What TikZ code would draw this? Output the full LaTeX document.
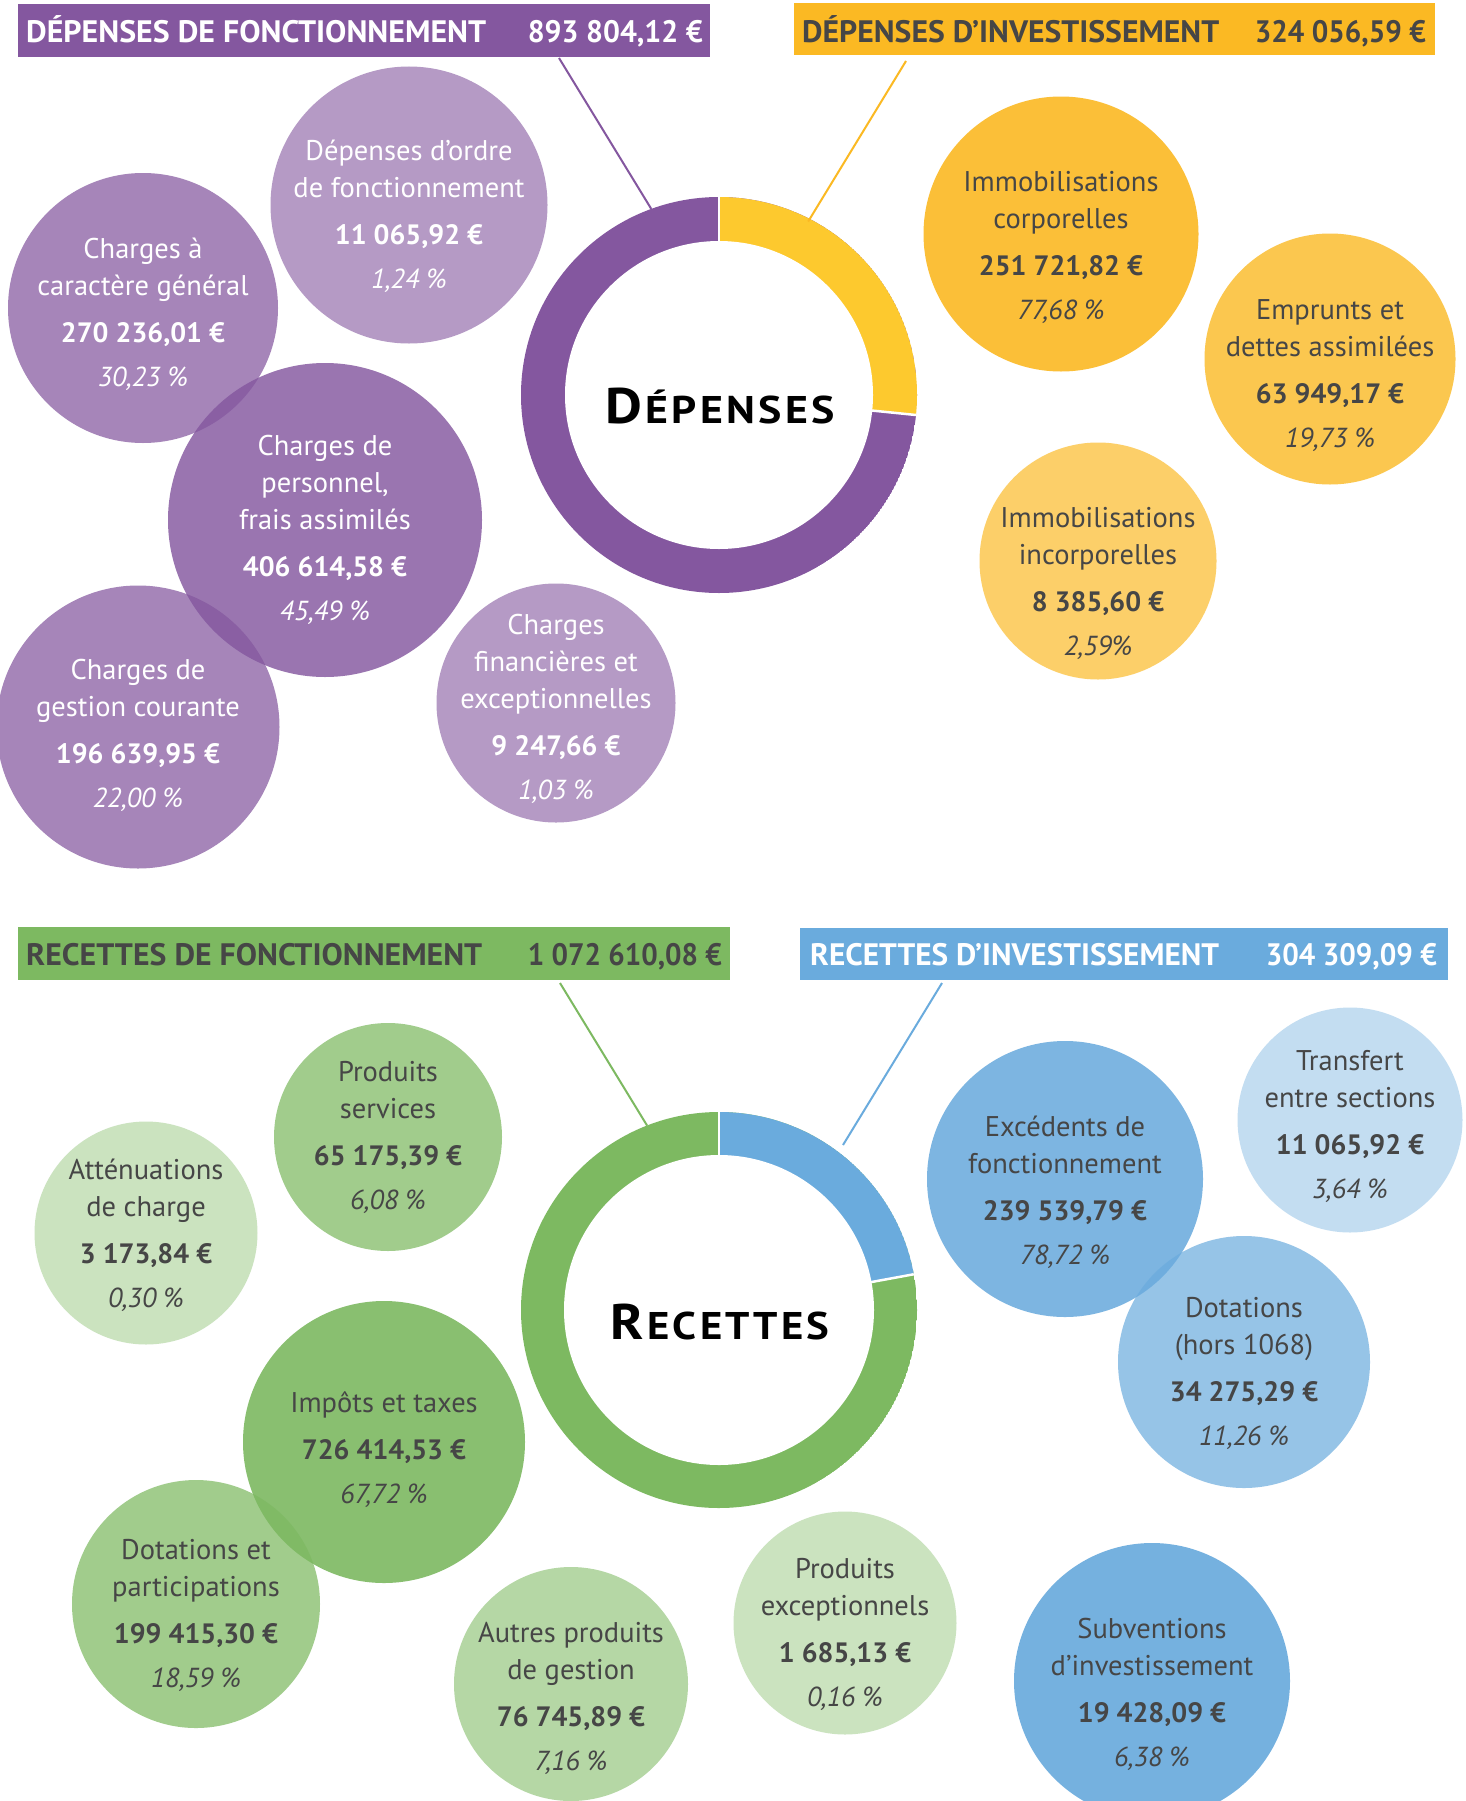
\documentclass[tikz,border=0pt]{standalone}
\usepackage{fontspec}
\setmainfont{PT Sans}
\usepackage{graphicx}
\usetikzlibrary{calc}
\definecolor{cP}{RGB}{132,87,159}
\definecolor{cY}{RGB}{251,185,35}
\definecolor{cYd}{RGB}{253,201,46}
\definecolor{cG}{RGB}{125,185,97}
\definecolor{cB}{RGB}{106,171,221}
\definecolor{tx}{RGB}{70,70,70}
\newlength\fitlen
\newcommand\fitw[2]{\settowidth\fitlen{#2}\pgfmathsetmacro\fitr{#1/\fitlen}\scalebox{\fitr}[1]{#2}}
\newcommand\amt[1]{{\bfseries\fontsize{28}{37}\selectfont #1}}
\newcommand\pct[1]{{\itshape\fontsize{27.5}{37}\selectfont #1}}
\tikzset{
  hbar/.style={rectangle, inner sep=0pt, anchor=north west},
  htxt/.style={inner sep=0pt, font=\bfseries\fontsize{31}{31}\selectfont},
  bub/.style={circle, inner sep=0pt},
  bP/.style={bub, fill=cP, fill opacity=#1},
  bY/.style={bub, fill=cY, fill opacity=#1},
  bG/.style={bub, fill=cG, fill opacity=#1},
  bB/.style={bub, fill=cB, fill opacity=#1},
  btx/.style={inner sep=0pt, align=center, font=\fontsize{28.5}{37}\selectfont},
  tW/.style={btx, text=white},
  tD/.style={btx, text=tx},
  conn/.style={line width=2pt},
  sep/.style={white, line width=2.5pt},
  ttl/.style={inner sep=0pt, anchor=base, text=black}
}
\begin{document}
\begin{tikzpicture}[x=1pt,y=-1pt]
\fill[white] (0,0) rectangle (1465,1801);
\useasboundingbox (0,0) rectangle (1465,1801);

% ---------------- DEPENSES ----------------
\node[hbar, fill=cP, minimum width=692pt, minimum height=53pt] (hP) at (18,4) {};
\node[htxt, text=white, anchor=base west] (hPl) at (26,43) {\fitw{460pt}{DÉPENSES DE FONCTIONNEMENT}};
\node[htxt, text=white, anchor=base east] (hPa) at (703,43) {\fitw{175pt}{893 804,12 €}};
\node[hbar, fill=cY, minimum width=641pt, minimum height=52pt] (hY) at (794,3) {};
\node[htxt, text=tx, anchor=base west] (hYl) at (802,43) {\fitw{417pt}{DÉPENSES D’INVESTISSEMENT}};
\node[htxt, text=tx, anchor=base east] (hYa) at (1426,43) {\fitw{171pt}{324 056,59 €}};

\coordinate (dD) at (719,395);
\begin{scope}
  \clip (dD) circle[radius=198];
  \fill[cP] (dD) circle[radius=198];
  \fill[cYd] (dD) -- ++(0,-300) -- ++(300,0) -- ++(0,330.5) -- cycle;
  \fill[white] (dD) circle[radius=154];
  \draw[sep] ($(dD)+(-90:150)$) -- ($(dD)+(-90:205)$);
  \draw[sep] ($(dD)+(5.8:150)$) -- ($(dD)+(5.8:205)$);
\end{scope}
\node[ttl] (tDp) at (720,423) {\fitw{230pt}{\bfseries\fontsize{50}{50}\selectfont D\fontsize{38.6}{40}\selectfont\kern3pt É\kern3pt P\kern3pt E\kern3pt N\kern3pt S\kern3pt E\kern3pt S}};

\coordinate (lP0) at (559,58);
\coordinate (lP1) at ($(dD)+(-110:198)$);
\coordinate (lY0) at (906,61);
\coordinate (lY1) at ($(dD)+(-62.8:195)$);
\draw[conn, cP] (lP0) -- (lP1);
\draw[conn, cY] (lY0) -- (lY1);

\node[bP=0.6, minimum size=277pt] (c1) at (409,205) {};
\node[bP=0.72, minimum size=270pt] (c2) at (143,308) {};
\node[bP=0.82, minimum size=314pt] (c3) at (325,520) {};
\node[bP=0.72, minimum size=283pt] (c4) at (138,727) {};
\node[bP=0.6, minimum size=239pt] (c5) at (556,703) {};
\node[bY=0.9, minimum size=275pt] (c6) at (1061,234) {};
\node[bY=0.8, minimum size=251pt] (c7) at (1330,359) {};
\node[bY=0.68, minimum size=237pt] (c8) at (1098,561) {};

\node[tW] (t1) at ($(c1)+(0,11)$) {Dépenses d’ordre\\de fonctionnement\\[10pt]\amt{11 065,92 €}\\[7pt]\pct{1,24 \%}};
\node[tW] (t2) at ($(c2)+(0,6)$) {Charges à\\caractère général\\[10pt]\amt{270 236,01 €}\\[7pt]\pct{30,23 \%}};
\node[tW] (t3) at ($(c3)+(0,10)$) {Charges de\\personnel,\\frais assimilés\\[10pt]\amt{406 614,58 €}\\[7pt]\pct{45,49 \%}};
\node[tW] (t4) at ($(c4)+(0,8)$) {Charges de\\gestion courante\\[10pt]\amt{196 639,95 €}\\[7pt]\pct{22,00 \%}};
\node[tW] (t5) at ($(c5)+(0,6)$) {Charges\\financières et\\exceptionnelles\\[10pt]\amt{9 247,66 €}\\[7pt]\pct{1,03 \%}};
\node[tD] (t6) at ($(c6)+(0,13)$) {Immobilisations\\corporelles\\[10pt]\amt{251 721,82 €}\\[7pt]\pct{77,68 \%}};
\node[tD] (t7) at ($(c7)+(0,17)$) {Emprunts et\\dettes assimilées\\[10pt]\amt{63 949,17 €}\\[7pt]\pct{19,73 \%}};
\node[tD] (t8) at ($(c8)+(0,22)$) {Immobilisations\\incorporelles\\[10pt]\amt{8 385,60 €}\\[7pt]\pct{2,59\%}};

% ---------------- RECETTES ----------------
\node[hbar, fill=cG, minimum width=712pt, minimum height=53pt] (hG) at (18,927) {};
\node[htxt, text=tx, anchor=base west] (hGl) at (26,965) {\fitw{456pt}{RECETTES DE FONCTIONNEMENT}};
\node[htxt, text=tx, anchor=base east] (hGa) at (722,965) {\fitw{194pt}{1 072 610,08 €}};
\node[hbar, fill=cB, minimum width=648pt, minimum height=52pt] (hB) at (800,928) {};
\node[htxt, text=white, anchor=base west] (hBl) at (810,965) {\fitw{409pt}{RECETTES D’INVESTISSEMENT}};
\node[htxt, text=white, anchor=base east] (hBa) at (1437,965) {\fitw{171pt}{304 309,09 €}};

\coordinate (dR) at (719,1310);
\begin{scope}
  \clip (dR) circle[radius=198];
  \fill[cG] (dR) circle[radius=198];
  \fill[cB] (dR) -- ++(0,-300) -- ++(300,0) -- ++(0,245) -- cycle;
  \fill[white] (dR) circle[radius=155];
  \draw[sep] ($(dR)+(-90:150)$) -- ($(dR)+(-90:205)$);
  \draw[sep] ($(dR)+(-10.4:150)$) -- ($(dR)+(-10.4:205)$);
\end{scope}
\node[ttl] (tRc) at (720,1339) {\fitw{219pt}{\bfseries\fontsize{50}{50}\selectfont R\fontsize{38.6}{40}\selectfont\kern3pt E\kern3pt C\kern3pt E\kern3pt T\kern3pt T\kern3pt E\kern3pt S}};

\coordinate (lG0) at (560,983);
\coordinate (lG1) at ($(dR)+(-111.3:198)$);
\coordinate (lB0) at (942,983);
\coordinate (lB1) at (843,1145);
\draw[conn, cG] (lG0) -- (lG1);
\draw[conn, cB] (lB0) -- (lB1);

\node[bG=0.72, minimum size=228pt] (c9) at (388,1137) {};
\node[bG=0.4, minimum size=223pt] (c10) at (146,1233) {};
\node[bG=0.9, minimum size=282pt] (c11) at (384,1442) {};
\node[bG=0.72, minimum size=248pt] (c12) at (196,1604) {};
\node[bG=0.57, minimum size=234pt] (c13) at (571,1684) {};
\node[bG=0.4, minimum size=223pt] (c14) at (845,1623) {};
\node[bB=0.87, minimum size=276pt] (c15) at (1065,1179) {};
\node[bB=0.4, minimum size=225pt] (c16) at (1350,1120) {};
\node[bB=0.7, minimum size=252pt] (c17) at (1244,1362) {};
\node[bB=0.92, minimum size=276pt] (c18) at (1152,1681) {};

\node[tD] (t9) at ($(c9)+(0,0)$) {Produits\\services\\[10pt]\amt{65 175,39 €}\\[7pt]\pct{6,08 \%}};
\node[tD] (t10) at ($(c10)+(0,2)$) {Atténuations\\de charge\\[10pt]\amt{3 173,84 €}\\[7pt]\pct{0,30 \%}};
\node[tD] (t11) at ($(c11)+(0,8)$) {Impôts et taxes\\[10pt]\amt{726 414,53 €}\\[7pt]\pct{67,72 \%}};
\node[tD] (t12) at ($(c12)+(0,11)$) {Dotations et\\participations\\[10pt]\amt{199 415,30 €}\\[7pt]\pct{18,59 \%}};
\node[tD] (t13) at ($(c13)+(0,14)$) {Autres produits\\de gestion\\[10pt]\amt{76 745,89 €}\\[7pt]\pct{7,16 \%}};
\node[tD] (t14) at ($(c14)+(0,11)$) {Produits\\exceptionnels\\[10pt]\amt{1 685,13 €}\\[7pt]\pct{0,16 \%}};
\node[tD] (t15) at ($(c15)+(0,13)$) {Excédents de\\fonctionnement\\[10pt]\amt{239 539,79 €}\\[7pt]\pct{78,72 \%}};
\node[tD] (t16) at ($(c16)+(0,6)$) {Transfert\\entre sections\\[10pt]\amt{11 065,92 €}\\[7pt]\pct{3,64 \%}};
\node[tD] (t17) at ($(c17)+(0,11)$) {Dotations\\(hors 1068)\\[10pt]\amt{34 275,29 €}\\[7pt]\pct{11,26 \%}};
\node[tD] (t18) at ($(c18)+(0,13)$) {Subventions\\d’investissement\\[10pt]\amt{19 428,09 €}\\[7pt]\pct{6,38 \%}};
\end{tikzpicture}
\end{document}
